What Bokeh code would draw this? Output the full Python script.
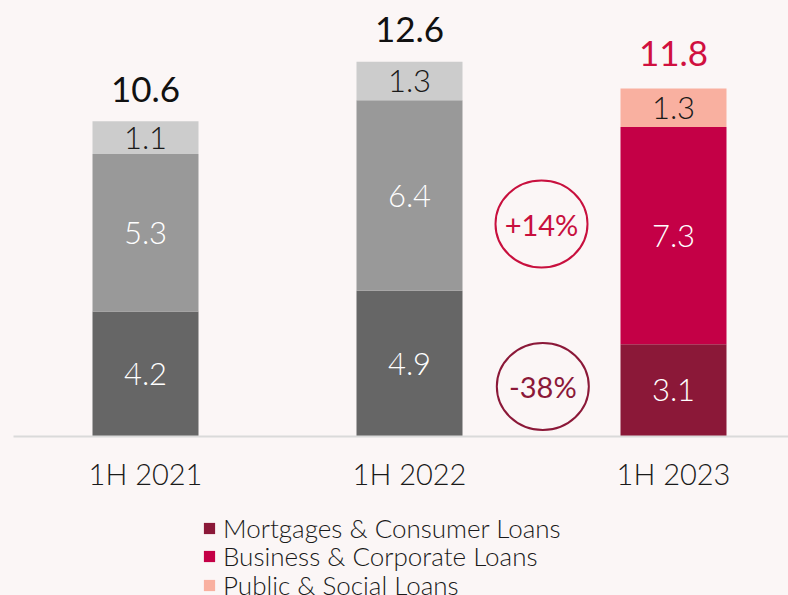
from bokeh.plotting import figure
from bokeh.models import ColumnDataSource, Legend, LegendItem, Range1d
from bokeh.core.properties import value
from bokeh.embed import file_html
from bokeh.resources import INLINE

# ---- data ----
periods = ["1H 2021", "1H 2022", "1H 2023"]
mortgages = [4.2, 4.9, 3.1]
business = [5.3, 6.4, 7.3]
public = [1.1, 1.3, 1.3]
totals = [10.6, 12.6, 11.8]
series_names = ["Mortgages & Consumer Loans", "Business & Corporate Loans", "Public & Social Loans"]
changes = ["+14%", "-38%"]

# ---- styles ----
FONT_NAME = "Lato Light"
FONT = value(FONT_NAME)
BG = "#FBF6F6"
colors = {
    "mort": ["#666666", "#666666", "#8B1838"],
    "bus": ["#999999", "#999999", "#C40046"],
    "pub": ["#CCCCCC", "#CCCCCC", "#F9B0A0"],
}
seg_text = {
    "mort": ["#FFFFFF", "#FFFFFF", "#FFFFFF"],
    "bus": ["#FFFFFF", "#FFFFFF", "#FFFFFF"],
    "pub": ["#1A1A1A", "#1A1A1A", "#1A1A1A"],
}
total_colors = ["#111111", "#111111", "#D0103F"]

W, H = 788, 595
xs = list(range(len(periods)))
px_per_x = 264.0
px_per_y = 29.75
x0 = -145.0 / px_per_x
y_top = 436.0 / px_per_y

p = figure(width=W, height=H, output_backend="svg", toolbar_location=None,
           x_range=Range1d(x0, x0 + W / px_per_x),
           y_range=Range1d(y_top - H / px_per_y, y_top),
           min_border=0, background_fill_color=BG, border_fill_color=BG,
           outline_line_color=None)
p.axis.visible = False
p.grid.visible = False

bar_w = 106.0 / px_per_x
bottoms = [0.0] * len(xs)
renderers = {}
for key, vals in [("mort", mortgages), ("bus", business), ("pub", public)]:
    tops = [b + v for b, v in zip(bottoms, vals)]
    src = ColumnDataSource(dict(
        x=xs, bottom=bottoms, top=tops, color=colors[key],
        mid=[(b + t) / 2 for b, t in zip(bottoms, tops)],
        label=[f"{v:.1f}" for v in vals], tcolor=seg_text[key]))
    r = p.vbar(x="x", bottom="bottom", top="top", width=bar_w, fill_color="color",
               line_color=None, source=src)
    renderers[key] = r
    p.text(x="x", y="mid", text="label", source=src, text_color="tcolor",
           text_align="center", text_baseline="middle", text_font=FONT,
           text_font_size="31px")
    bottoms = tops

# totals
tsrc = ColumnDataSource(dict(x=xs, y=totals, label=[f"{t:.1f}" for t in totals],
                             c=total_colors))
p.text(x="x", y="y", text="label", source=tsrc, text_color="c", text_align="center",
       text_baseline="middle", text_font=value("Lato"), text_font_size="35px", y_offset=-32)

# baseline
p.segment(x0=[x0 + 13 / px_per_x], x1=[x0 + W / px_per_x], y0=[0], y1=[0],
          line_color="#DADADA", line_width=2)

# category labels
csrc = ColumnDataSource(dict(x=xs, y=[0] * 3, label=periods))
p.text(x="x", y="y", text="label", source=csrc, text_color="#1A1A1A", text_align="center",
       text_baseline="middle", text_font=FONT, text_font_size="29px", y_offset=37)

# change bubbles
bx = [1.5, 1.505]
by = [7.14, 1.68]
bcol = ["#C8103E", "#8B1838"]
bsrc = ColumnDataSource(dict(x=bx, y=by, label=changes, c=bcol))
p.ellipse(x="x", y="y", width=92, height=87, width_units="screen", height_units="screen",
          fill_color=None, line_color="c", line_width=2, source=bsrc)
p.text(x="x", y="y", text="label", source=bsrc, text_color="c", text_align="center",
       text_baseline="middle", text_font=value("Lato"), text_font_size="29px")

# legend: one single-item legend per row for exact row pitch
legend_y = [51, 23, -6]
for i, k in enumerate(["mort", "bus", "pub"]):
    item = LegendItem(label=series_names[i], renderers=[renderers[k]], index=2)
    lg = Legend(items=[item], location=(202, legend_y[i]), orientation="vertical",
                background_fill_alpha=0, border_line_color=None, padding=0, margin=0,
                spacing=0, glyph_width=14, glyph_height=14, label_height=28,
                label_standoff=7, label_text_font=FONT_NAME, label_text_font_size="26px",
                label_text_color="#1A1A1A")
    p.add_layout(lg)

html = file_html(p, INLINE)
html = html.replace("<head>", "<head><style>body{background:%s;}</style>" % BG, 1)
open("out.html", "w").write(html)
